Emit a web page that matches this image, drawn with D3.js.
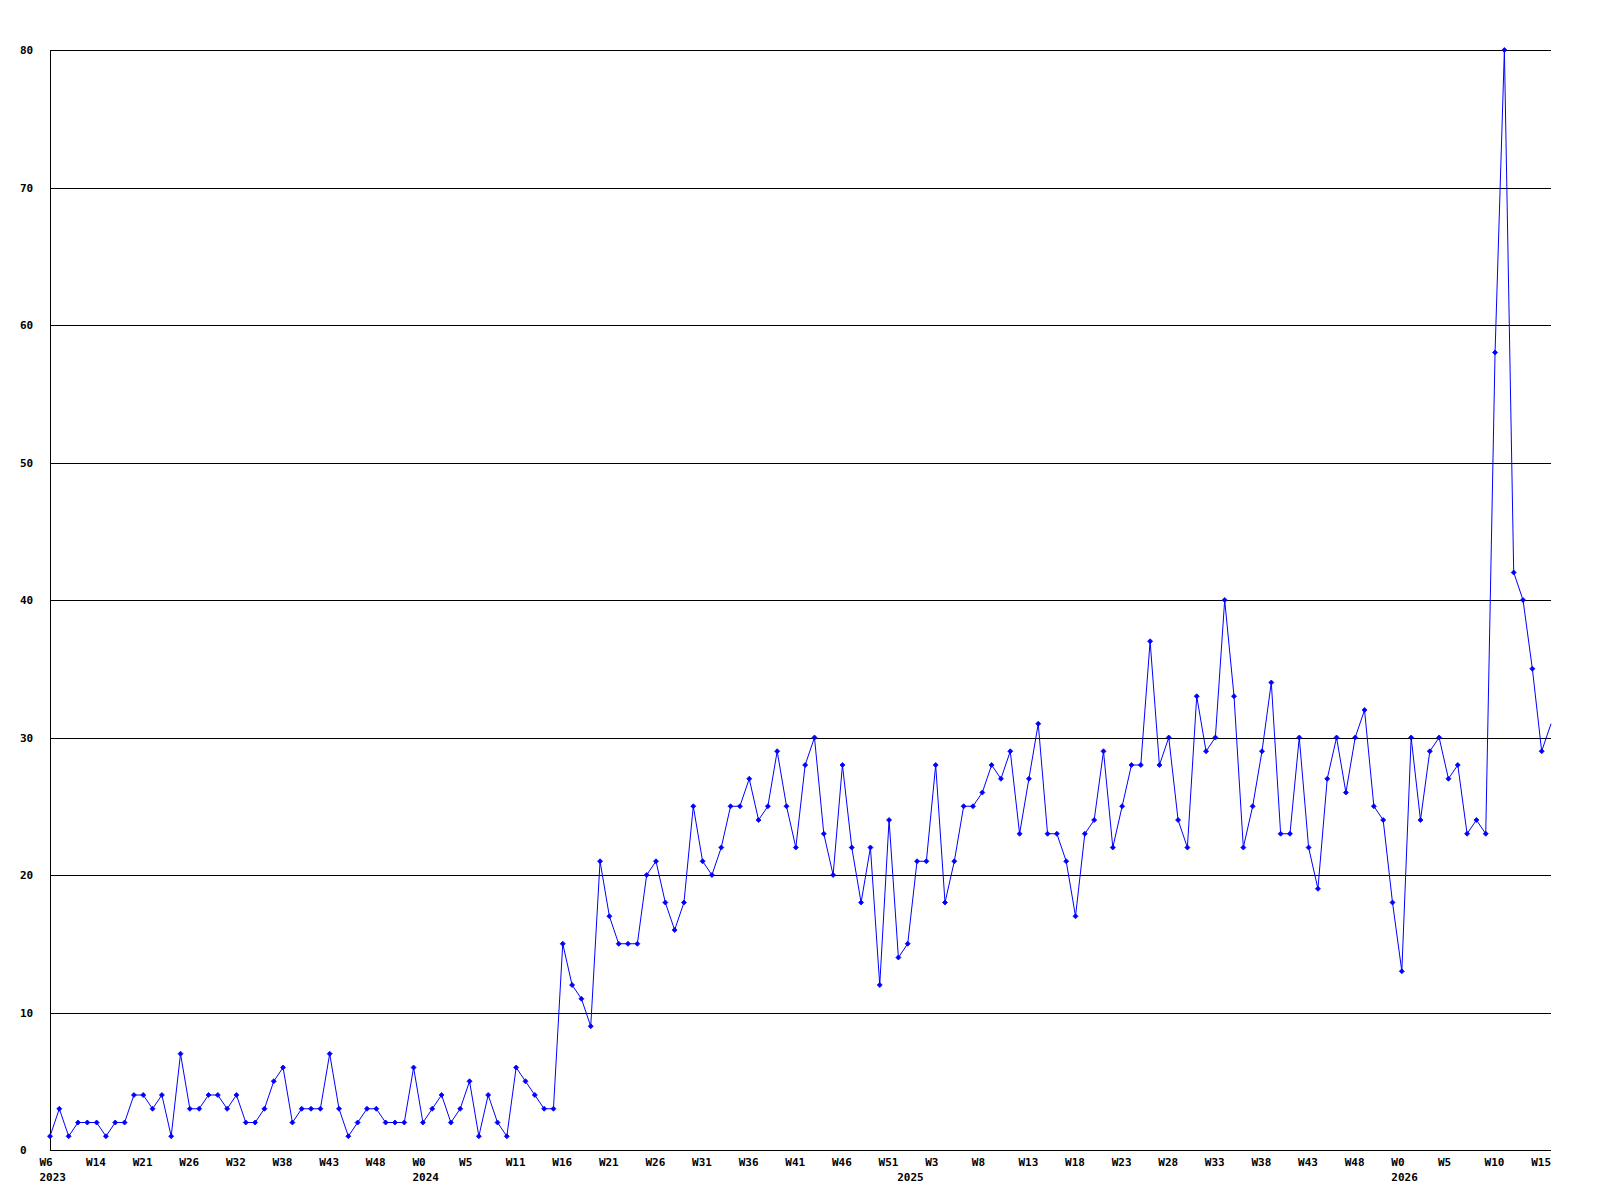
<!DOCTYPE html>
<html>
<head>
<meta charset="utf-8">
<script src="https://cdn.jsdelivr.net/npm/d3@7"></script>
<style>
  html, body { margin: 0; padding: 0; background: #ffffff; }
  svg { display: block; }
  text { font-family: "DejaVu Sans Mono", monospace; font-weight: bold; font-size: 11px; fill: #000; }
</style>
</head>
<body>
<svg id="chart" width="1600" height="1200"></svg>
<script>
// Weekly values, one per point
const values = [
  1,3,1,2,2,2,1,2,2,4,4,3,4,1,7,3,3,4,4,3,4,2,2,3,5,6,2,3,3,3,7,3,1,2,3,3,2,2,2,6,2,3,4,2,3,5,1,4,2,1,6,5,4,3,3,
  15,12,11,9,21,17,15,15,15,20,21,18,16,18,25,21,20,22,25,25,27,24,25,29,25,22,28,30,23,20,28,22,18,22,
  12,24,14,15,21,21,28,18,21,25,25,26,28,27,29,23,27,31,23,23,21,17,23,24,29,22,25,28,28,37,28,30,24,22,
  33,29,30,40,33,22,25,29,34,23,23,30,22,19,27,30,26,30,32,25,24,18,13,
  30,24,29,30,27,28,23,24,23,58,80,42,40,35,29,31
];
// Week tick labels (every 5th point)
const weekTickIndex = [0,5,10,15,20,25,30,35,40,45,50,55,60,65,70,75,80,85,90,95,100,105,110,115,120,125,130,135,140,145,150,155,160];
const weekTickLabels = ["W6","W14","W21","W26","W32","W38","W43","W48","W0","W5","W11","W16","W21","W26","W31","W36","W41","W46","W51","W3","W8","W13","W18","W23","W28","W33","W38","W43","W48","W0","W5","W10","W15"];
// Year labels
const yearTickIndex = [0,40,92,145];
const yearTickLabels = ["2023","2024","2025","2026"];
// Y ticks
const yTicks = [0,10,20,30,40,50,60,70,80];

const svg = d3.select("#chart");
const mLeft = 50, mRight = 1551, mTop = 50, mBottom = 1150;

const x = d3.scaleLinear().domain([0, values.length - 1]).range([mLeft, mRight]);
const y = d3.scaleLinear().domain([0, 80]).range([mBottom, mTop]);

const fontStyle = sel => sel
  .style("font-family", "'DejaVu Sans Mono', monospace")
  .style("font-weight", "bold").style("font-size", "11px").attr("fill", "#000");

// clip for markers (last, partial point sits on the plot edge)
svg.append("defs").append("clipPath").attr("id", "markClip")
  .append("rect").attr("x", 0).attr("y", 0).attr("width", mRight - 3).attr("height", 1200);

// Y axis with gridlines
const yAxis = svg.append("g")
  .attr("transform", `translate(${mLeft},0)`)
  .call(d3.axisLeft(y).tickValues(yTicks).tickSize(-(mRight - mLeft)).tickFormat(d3.format("d")));
yAxis.select(".domain").remove();
yAxis.selectAll(".tick line")
  .attr("stroke", "#000").attr("stroke-width", 1).attr("shape-rendering", "crispEdges");
yAxis.selectAll(".tick text")
  .attr("text-anchor", "start").attr("x", 20 - mLeft).attr("dy", "0.35em")
  .call(fontStyle);

// Y axis line
svg.append("line")
  .attr("x1", mLeft + 0.5).attr("x2", mLeft + 0.5).attr("y1", mTop).attr("y2", mBottom)
  .attr("stroke", "#000").attr("stroke-width", 1).attr("shape-rendering", "crispEdges");

// X axis (weeks)
const xAxis = svg.append("g")
  .attr("transform", `translate(0,${mBottom})`)
  .call(d3.axisBottom(x).tickValues(weekTickIndex).tickSize(0)
    .tickFormat((d, i) => weekTickLabels[i]));
xAxis.select(".domain")
  .attr("d", `M${mLeft},0.5H${mRight}`).attr("stroke", "#000").attr("shape-rendering", "crispEdges");
xAxis.selectAll(".tick text")
  .attr("text-anchor", "start").attr("dx", -11).attr("y", 12).attr("dy", "0.35em")
  .call(fontStyle);

// Year labels
const yearAxis = svg.append("g")
  .attr("transform", `translate(0,${mBottom})`)
  .call(d3.axisBottom(x).tickValues(yearTickIndex).tickSize(0)
    .tickFormat((d, i) => yearTickLabels[i]));
yearAxis.select(".domain").remove();
yearAxis.selectAll(".tick text")
  .attr("text-anchor", "start").attr("dx", -11).attr("y", 27).attr("dy", "0.35em")
  .call(fontStyle);

// Line
const line = d3.line().x((d, i) => x(i)).y(d => y(d));
svg.append("path")
  .datum(values)
  .attr("d", line)
  .attr("fill", "none")
  .attr("stroke", "#0000ff")
  .attr("stroke-width", 1);

// Markers
svg.append("g").attr("clip-path", "url(#markClip)").selectAll("path")
  .data(values)
  .join("path")
  .attr("transform", (d, i) => `translate(${x(i)},${y(d)})`)
  .attr("d", "M0,-2.5L2.5,0L0,2.5L-2.5,0Z")
  .attr("fill", "#0000ff")
  .attr("stroke", "#0000ff")
  .attr("stroke-width", 0.8);
</script>
</body>
</html>
